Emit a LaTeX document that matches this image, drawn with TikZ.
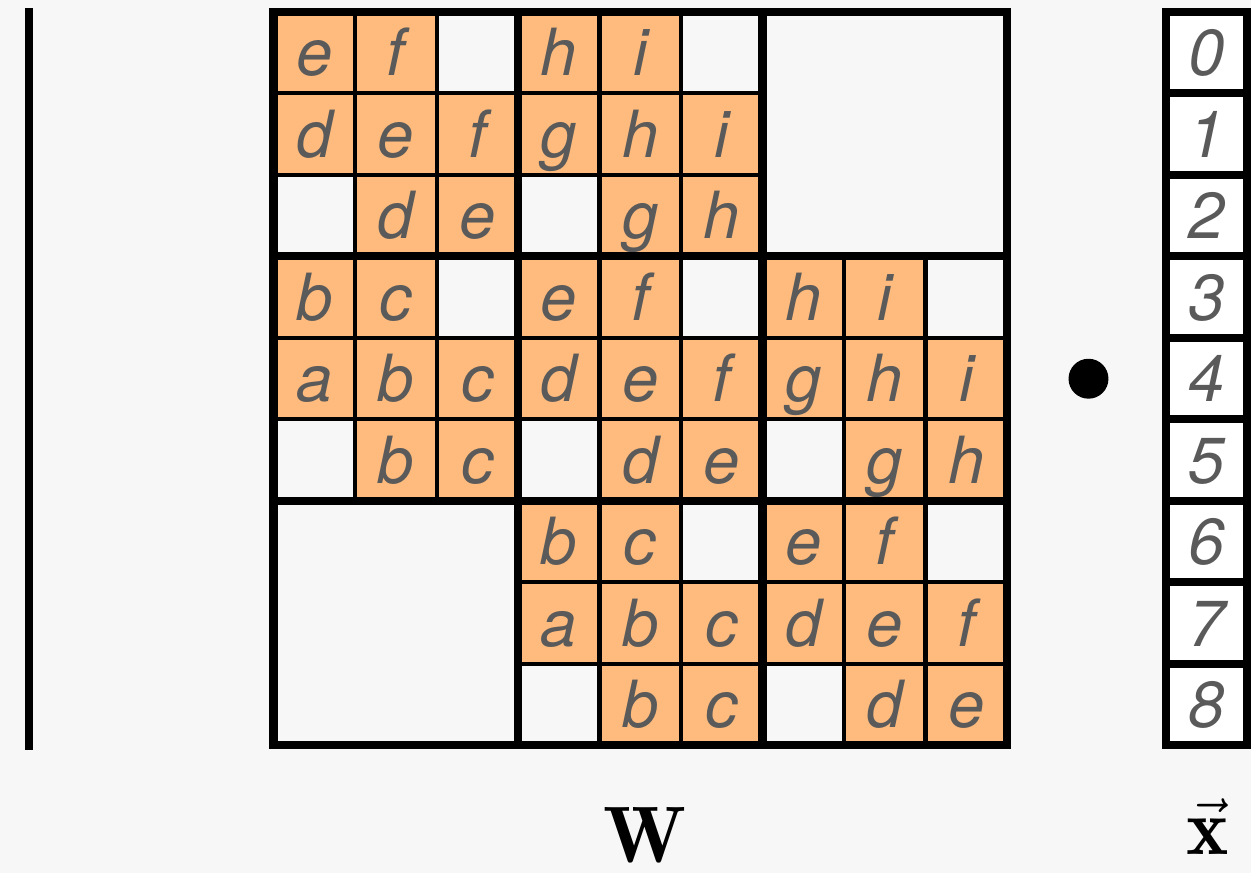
\documentclass[tikz,border=0pt]{standalone}
\usepackage{fontspec}
\newfontfamily\cellfont{TeX Gyre Heros}
\definecolor{paper}{RGB}{247,247,247}
\definecolor{cellfill}{RGB}{254,187,125}
\definecolor{letter}{RGB}{90,90,90}

\begin{document}
\begin{tikzpicture}[
  entry/.style={rectangle,draw=black,fill=cellfill,line width=1.4pt,minimum size=1cm,inner sep=0pt,
    text height=0.56cm,text depth=0pt,text=letter,font=\cellfont\itshape\fontsize{22.7}{27}\selectfont},
  vecentry/.style={entry,fill=white,line width=2.8pt},
  cellline/.style={draw=black,line width=1.4pt},
  blockline/.style={draw=black,line width=2.8pt,line cap=rect},
  label/.style={inner sep=0pt,font=\fontsize{28}{32}\selectfont}
]
\useasboundingbox[fill=paper] (-3.356,0.147) rectangle (11.994,-10.564);

% band blocks of W: top row, middle row, bottom row
\foreach \bi/\bj/\ta/\tb/\ma/\mb/\mc/\ua/\ub in {0/0/e/f/d/e/f/d/e, 0/1/h/i/g/h/i/g/h, 1/0/b/c/a/b/c/b/c,
    1/1/e/f/d/e/f/d/e, 1/2/h/i/g/h/i/g/h, 2/1/b/c/a/b/c/b/c, 2/2/e/f/d/e/f/d/e} {
  \foreach \dr/\dc/\l in {0/0/\ta, 0/1/\tb, 1/0/\ma, 1/1/\mb, 1/2/\mc, 2/1/\ua, 2/2/\ub}
    \node[entry] (w\bi\dr\bj\dc) at ({3*\bj+\dc+0.5},{-3*\bi-\dr-0.5}) {\l};
  \draw[cellline,step=1] (3*\bj,-3*\bi) grid (3*\bj+3,-3*\bi-3);
}
\draw[blockline,step=3] (0,0) grid (9,-9);
\draw[blockline] (0,0) rectangle (9,-9);

% the vector
\foreach \k in {0,...,8}
  \node[vecentry] (x\k) at (11.445,-\k-0.5) {\k};

\node[circle,fill=black,inner sep=0pt,minimum size=0.49cm] (dot) at (10,-4.5) {};

\coordinate (bartop) at (-3,0.05);
\coordinate (barbot) at (-3,-9.05);
\draw[line width=2.8pt] (bartop) -- (barbot);

\node[label] (wlabel) at (4.56,-10.1) {$\mathbf{W}$};
\node[label] (xlabel) at (11.46,-10.0) {$\vec{\mathbf{x}}$};
\end{tikzpicture}
\end{document}
